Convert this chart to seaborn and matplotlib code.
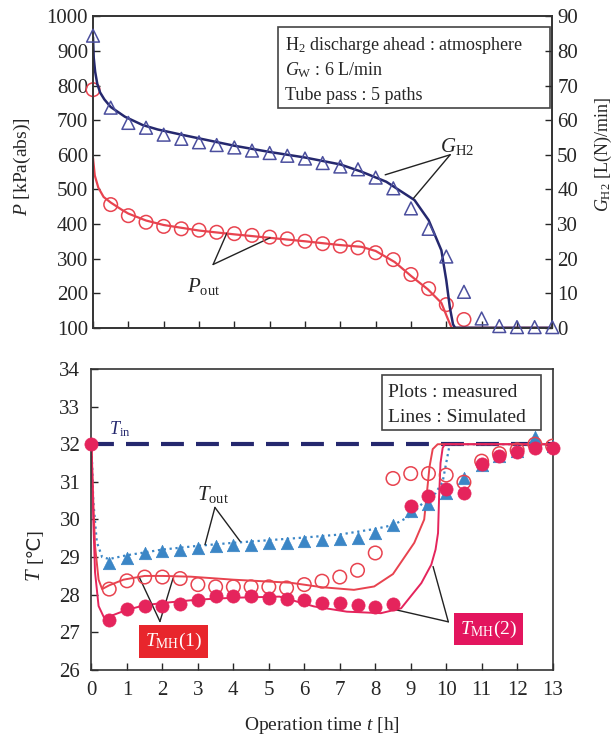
import pandas as pd
import matplotlib
matplotlib.use("Agg")
import matplotlib.pyplot as plt
from matplotlib.patches import Rectangle
import seaborn as sns

# ---- measured data (0.5 h steps) ----
t_meas = [0, 0.5, 1, 1.5, 2, 2.5, 3, 3.5, 4, 4.5, 5, 5.5, 6, 6.5, 7, 7.5, 8, 8.5,
          9, 9.5, 10, 10.5, 11, 11.5, 12, 12.5, 13]
g_h2_meas = [84.4, 63.6, 59.2, 57.8, 55.8, 54.6, 53.6, 52.8, 52.1, 51.2, 50.5, 49.7,
             48.9, 47.6, 46.6, 45.8, 43.4, 40.3, 34.5, 28.6, 20.6, 10.4, 2.7, 0.5,
             0.2, 0.2, 0.2]
t_pout_meas = [0, 0.5, 1, 1.5, 2, 2.5, 3, 3.5, 4, 4.5, 5, 5.5, 6, 6.5, 7, 7.5, 8,
               8.5, 9, 9.5, 10, 10.5]
p_out_meas = [788, 456, 424, 405, 393, 386, 382, 376, 372, 367, 362, 357, 350, 343,
              336, 331, 317, 297, 254, 213, 167, 124]

t_mh1_meas = [28.15, 28.37, 28.47, 28.47, 28.43, 28.27, 28.21, 28.21, 28.21, 28.21,
              28.18, 28.27, 28.36, 28.47, 28.65, 29.11, 31.09, 31.22, 31.22, 31.18,
              30.99, 31.55, 31.75, 31.85, 32.0, 31.95]
t_mh2_meas = [32.0, 27.33, 27.62, 27.71, 27.71, 27.76, 27.87, 27.97, 27.97, 27.97,
              27.91, 27.88, 27.87, 27.78, 27.78, 27.73, 27.67, 27.76, 30.36, 30.62,
              30.80, 30.71, 31.47, 31.69, 31.80, 31.91, 31.91]
t_out_meas = [28.84, 28.98, 29.11, 29.16, 29.20, 29.24, 29.29, 29.33, 29.33, 29.38,
              29.38, 29.42, 29.45, 29.48, 29.51, 29.64, 29.85, 30.22, 30.40, 30.71,
              31.11, 31.45, 31.70, 31.82, 32.18, 31.95]

# ---- simulated lines ----
t_sim_g = [0, 0.02, 0.06, 0.12, 0.2, 0.32, 0.5, 0.9, 1.4, 1.83, 2.5, 3.06, 4, 5, 6, 7,
           7.6, 8.3, 9.1, 9.5, 9.86, 10.0, 10.1, 10.19, 10.25, 13]
g_h2_sim = [84, 78, 74, 70.5, 68, 66, 63.8, 61, 58.6, 57.3, 55.8, 54.6, 52.6, 50.8,
            49.2, 47.2, 45.1, 42.2, 36.9, 31.1, 22.4, 13.7, 5.9, 1.0, 0, 0]
t_sim_p = [0, 0.05, 0.15, 0.3, 0.5, 0.8, 1, 1.5, 2, 3, 4, 5, 6, 7, 7.6, 8, 8.54, 9,
           9.48, 9.86, 10.05, 10.15, 10.3, 13]
p_out_sim = [590, 540, 505, 478, 462, 442, 430, 410, 397, 381, 370, 360, 350, 339,
             334, 322, 290, 250, 211, 172, 124, 100, 100, 100]

t_sim_tout = [0, 0.05, 0.15, 0.3, 0.5, 1, 2, 3, 4, 5, 6, 7, 8, 8.5, 9, 9.4, 9.7, 9.9,
              10.0, 10.1, 13]
t_out_sim = [32, 30.5, 29.4, 29.0, 28.95, 29.05, 29.2, 29.3, 29.38, 29.45, 29.52,
             29.6, 29.75, 29.85, 30.1, 30.5, 30.7, 31.0, 31.5, 32.0, 32.0]
t_sim_mh1 = [0, 0.05, 0.1, 0.2, 0.3, 0.5, 0.9, 1.5, 2, 2.8, 4, 5, 5.6, 6.5, 7.4, 7.97,
             8.5, 9.1, 9.38, 9.53, 9.62, 9.76, 13]
t_mh1_sim = [32, 30.5, 29.3, 28.4, 28.15, 28.25, 28.4, 28.5, 28.5, 28.48, 28.4, 28.35,
             28.32, 28.2, 28.13, 28.22, 28.55, 29.38, 30.0, 31.4, 31.87, 32.0, 32.0]
t_sim_mh2 = [0, 0.05, 0.1, 0.2, 0.35, 0.5, 1, 1.5, 2, 3, 4, 5.3, 6.27, 7.2, 8.16, 8.73,
             9.3, 9.58, 9.7, 9.77, 9.8, 9.84, 9.9, 9.96, 13]
t_mh2_sim = [32, 30.0, 28.6, 27.7, 27.4, 27.42, 27.6, 27.72, 27.78, 27.87, 27.92,
             27.95, 27.69, 27.55, 27.51, 27.64, 28.31, 28.8, 29.2, 29.64, 30.6, 31.5,
             31.9, 32.0, 32.0]
t_in = 32

navy = "#25286e"
tri_blue = "#4b4f9e"
red = "#e8434f"
pink = "#e5245c"
sky = "#3b86c6"

sns.set_style("ticks")
plt.rcParams["font.family"] = ["Liberation Serif", "DejaVu Sans"]
plt.rcParams["mathtext.fontset"] = "custom"
plt.rcParams["mathtext.rm"] = "Liberation Serif"
plt.rcParams["mathtext.it"] = "Liberation Serif:italic"
plt.rcParams["axes.edgecolor"] = "#333333"
plt.rcParams["axes.linewidth"] = 1.2

fig = plt.figure(figsize=(6.14, 7.4), dpi=100)
ax1 = fig.add_axes([0.1515, 0.557, 0.748, 0.421])
ax2 = ax1.twinx()
ax3 = fig.add_axes([0.1490, 0.0946, 0.751, 0.4068])

# ---------- top panel ----------
sns.lineplot(x=t_sim_p, y=p_out_sim, ax=ax1, color=red, lw=1.6, sort=False, estimator=None)
sns.scatterplot(x=t_pout_meas, y=p_out_meas, ax=ax1, marker="o", s=95,
                facecolor="none", edgecolor=red, linewidth=1.1, zorder=3, clip_on=False)
sns.lineplot(x=t_sim_g, y=g_h2_sim, ax=ax2, color=navy, lw=1.8, sort=False, estimator=None)
sns.scatterplot(x=t_meas, y=g_h2_meas, ax=ax2, marker="^", s=85,
                facecolor="none", edgecolor=tri_blue, linewidth=1.1, zorder=3, clip_on=False)

ax1.set_xlim(0, 13)
ax1.set_ylim(100, 1000)
ax2.set_ylim(0, 90)
ax1.set_xticks(range(0, 14))
ax1.set_xticklabels([])
ax1.set_yticks(range(100, 1001, 100))
ax2.set_yticks(range(0, 91, 10))
ax1.tick_params(direction="in", length=5, labelsize=15, width=1)
ax2.tick_params(direction="in", length=5, labelsize=15, width=1)
ax1.set_ylabel("$P$ [kPa(abs)]", fontsize=14)
ax1.yaxis.set_label_coords(-0.13, 0.516)
ax2.set_ylabel(r"$G_{\rm H2}$ [L(N)/min]", fontsize=13)
ax2.yaxis.set_label_coords(1.088, 0.555)
ax1.set_xlabel("")

ax1.add_patch(Rectangle((0.403, 0.705), 0.593, 0.26, transform=ax1.transAxes,
                        fc="white", ec="#444444", lw=1.2, zorder=5))
for yy, s in [(0.905, "H$_2$ discharge ahead : atmosphere"),
              (0.826, "$G_{\\rm W}$ : 6 L/min"),
              (0.747, "Tube pass : 5 paths")]:
    ax1.text(0.418, yy, s, transform=ax1.transAxes, ha="left", va="center",
             fontsize=13, zorder=6)

ax2.text(10.3, 52.5, r"$G_{\rm H2}$", fontsize=15, ha="center", va="center")
for xe, ye in [(8.27, 44.2), (9.07, 37.4)]:
    ax2.plot([10.11, xe], [50.0, ye], color="#222222", lw=1)
ax1.text(3.12, 219, r"$P_{\rm out}$", fontsize=15, ha="center", va="center")
for xe, ye in [(3.79, 374), (5.01, 360)]:
    ax1.plot([3.4, xe], [283, ye], color="#222222", lw=1)

# ---------- bottom panel ----------
ax3.axhline(t_in, color=navy, lw=3, ls=(0, (5.5, 2.9)), zorder=2)
sns.lineplot(x=t_sim_tout, y=t_out_sim, ax=ax3, color=sky, lw=1.6, ls=":",
             sort=False, estimator=None)
sns.lineplot(x=t_sim_mh1, y=t_mh1_sim, ax=ax3, color=red, lw=1.4, sort=False, estimator=None)
sns.lineplot(x=t_sim_mh2, y=t_mh2_sim, ax=ax3, color=pink, lw=1.4, sort=False, estimator=None)
sns.scatterplot(x=t_meas[1:], y=t_out_meas, ax=ax3, marker="^", s=80, color=sky,
                edgecolor=sky, linewidth=0.5, zorder=3)
sns.scatterplot(x=t_meas[1:], y=t_mh1_meas, ax=ax3, marker="o", s=95,
                facecolor="none", edgecolor=red, linewidth=1.1, zorder=3)
sns.scatterplot(x=t_meas, y=t_mh2_meas, ax=ax3, marker="o", s=90, color=pink,
                edgecolor=pink, linewidth=0.5, zorder=4, clip_on=False)

ax3.set_xlim(0, 13)
ax3.set_ylim(26, 34)
ax3.set_xticks(range(0, 14))
ax3.set_yticks(range(26, 35))
ax3.tick_params(direction="in", length=5, labelsize=15, width=1, pad=8)
ax3.set_xlabel("Operation time $t$ [h]", fontsize=14, labelpad=11)
ax3.set_ylabel("")
# y label in two pieces so the ℃ sign can fall back to DejaVu Sans
ax3.text(-0.122, 0.318, "$T$", transform=ax3.transAxes, rotation=90,
         ha="center", va="center", fontsize=15)
ax3.text(-0.122, 0.415, "[℃]", transform=ax3.transAxes, rotation=90,
         ha="center", va="center", fontsize=14)

ax3.add_patch(Rectangle((0.63, 0.797), 0.344, 0.183, transform=ax3.transAxes,
                        fc="white", ec="#444444", lw=1.2, zorder=5))
for yy, s in [(0.922, "Plots : measured"), (0.838, "Lines : Simulated")]:
    ax3.text(0.643, yy, s, transform=ax3.transAxes, ha="left", va="center",
             fontsize=14, zorder=6)

ax3.text(0.79, 32.4, r"$T_{\rm in}$", fontsize=13, color=navy, ha="center", va="center")
ax3.text(3.43, 30.67, r"$T_{\rm out}$", fontsize=15, ha="center", va="center")
for xe, ye in [(3.2, 29.33), (4.19, 29.42)]:
    ax3.plot([3.48, xe], [30.32, ye], color="#222222", lw=1)

ax3.text(2.32, 26.75, r"$T_{\rm MH}$(1)", fontsize=14, color="white", ha="center",
         va="center", bbox=dict(boxstyle="square,pad=0.3", fc="#e8262c", ec="none"))
for xe, ye in [(1.36, 28.44), (2.30, 28.44)]:
    ax3.plot([1.93, xe], [27.29, ye], color="#222222", lw=1)
ax3.text(11.19, 27.09, r"$T_{\rm MH}$(2)", fontsize=14, color="white", ha="center",
         va="center", bbox=dict(boxstyle="square,pad=0.3", fc="#e3155e", ec="none"))
for xe, ye in [(8.58, 27.6), (9.63, 28.75)]:
    ax3.plot([10.06, xe], [27.28, ye], color="#222222", lw=1)

fig.savefig("out.png", dpi=100)
